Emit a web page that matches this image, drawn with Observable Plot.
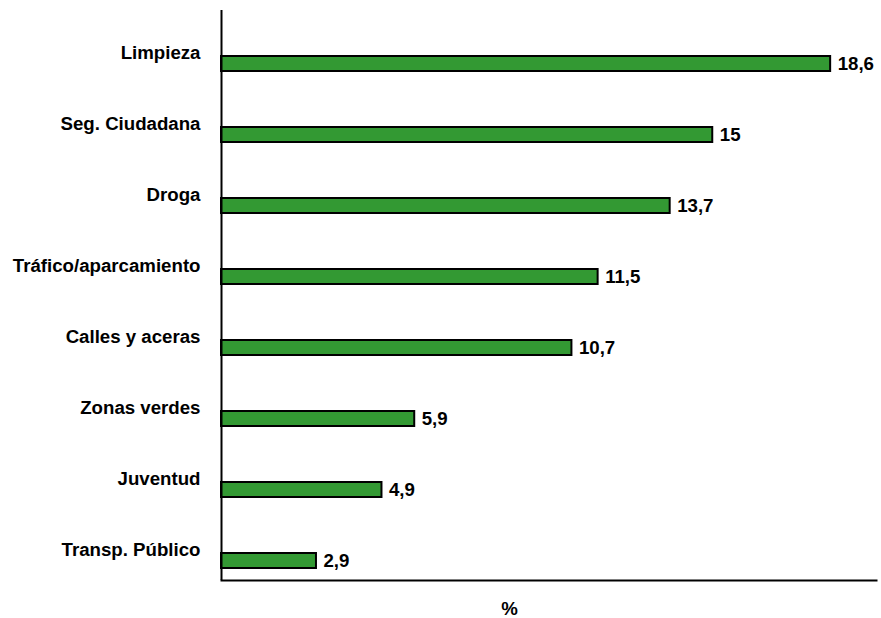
<!DOCTYPE html>
<html>
<head>
<meta charset="utf-8">
<script src="https://cdn.jsdelivr.net/npm/d3@7"></script>
<script src="https://cdn.jsdelivr.net/npm/@observablehq/plot@0.6"></script>
<style>
  html, body { margin: 0; padding: 0; background: #fff; }
</style>
</head>
<body>
<div id="chart"></div>
<script>
const categories = ["Limpieza", "Seg. Ciudadana", "Droga", "Tráfico/aparcamiento", "Calles y aceras", "Zonas verdes", "Juventud", "Transp. Público"];
const values = [18.6, 15, 13.7, 11.5, 10.7, 5.9, 4.9, 2.9];
const axisLabel = "%";

const data = categories.map((c, i) => ({cat: c, value: values[i]}));
const fmt = v => String(v).replace(".", ",");

const chart = Plot.plot({
  width: 881,
  height: 618,
  marginLeft: 221,
  marginRight: 5,
  marginTop: 10,
  marginBottom: 38,
  style: {fontFamily: "'Liberation Sans', Arial, sans-serif", fontSize: "18.67px", background: "#fff", color: "#000"},
  x: {domain: [0, 20], axis: null},
  y: {domain: categories, paddingInner: 0.794, paddingOuter: 0.394, align: 0.788, axis: null},
  marks: [
    Plot.barX(data, {x: "value", y: "cat", fill: "#339933", stroke: "#000", strokeWidth: 2}),
    Plot.ruleX([0], {stroke: "#000", strokeWidth: 2}),
    Plot.frame({anchor: "bottom", stroke: "#000", strokeWidth: 2}),
    Plot.text(data, {y: "cat", text: "cat", frameAnchor: "left", textAnchor: "end", dx: -21, dy: -11, fontWeight: "bold", fill: "#000"}),
    Plot.text(data, {x: "value", y: "cat", text: d => fmt(d.value), textAnchor: "start", dx: 7, fontWeight: "bold", fill: "#000"}),
    Plot.text([axisLabel], {frameAnchor: "bottom", dy: 34, dx: -39.5, fontWeight: "bold", fill: "#000"})
  ]
});
document.getElementById("chart").appendChild(chart);
</script>
</body>
</html>
